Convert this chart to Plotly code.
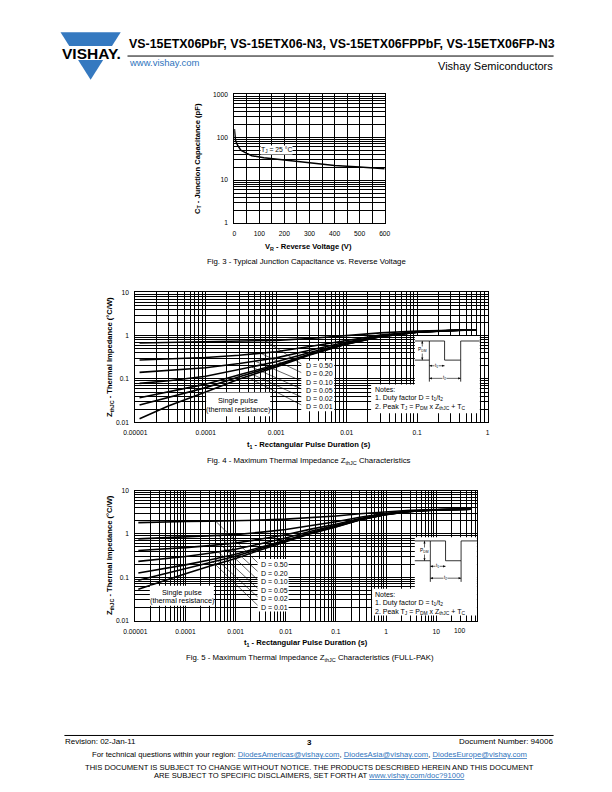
import math
import plotly.graph_objects as go

W, H = 612, 792
FONT = "Liberation Sans, Arial, Helvetica, sans-serif"
BLUE = "#2f74bd"
LOGO_BLUE = "#3579c0"

# ---------------- data ----------------
# Fig. 3 - junction capacitance vs reverse voltage
vr_volts = [0.5, 2, 5, 13, 26, 50, 70, 118, 200, 300, 400, 500, 600]
ct_pf = [155, 119, 84, 65, 50, 42, 37, 33, 29, 24.8, 21.9, 20.1, 18.4]
fig3_x_ticks = [0, 100, 200, 300, 400, 500, 600]
fig3_x_labels = ["0", "100", "200", "300", "400", "500", "600"]
fig3_y_ticks = [1, 10, 100, 1000]
fig3_y_labels = ["1", "10", "100", "1000"]

# Fig. 4 - thermal impedance
duty_labels = ["D = 0.50", "D = 0.20", "D = 0.10", "D = 0.05", "D = 0.02", "D = 0.01"]
t4 = [1.15e-5, 3e-5, 1e-4, 3e-4, 1e-3, 3e-3, 1e-2, 3e-2, 0.1, 0.3, 0.7]
z4_d50 = [0.68, 0.697, 0.71, 0.735, 0.78, 0.865, 1.005, 1.16, 1.285, 1.345, 1.37]
z4_d20 = [0.275, 0.293, 0.314, 0.354, 0.426, 0.562, 0.786, 1.034, 1.234, 1.33, 1.37]
z4_d10 = [0.142, 0.159, 0.182, 0.227, 0.308, 0.461, 0.713, 0.992, 1.217, 1.325, 1.37]
z4_d05 = [0.079, 0.091, 0.116, 0.164, 0.249, 0.411, 0.677, 0.971, 1.209, 1.323, 1.37]
z4_d02 = [0.037, 0.051, 0.076, 0.125, 0.214, 0.38, 0.655, 0.958, 1.203, 1.321, 1.37]
z4_d01 = [0.025, 0.0375, 0.0632, 0.113, 0.202, 0.37, 0.647, 0.954, 1.202, 1.32, 1.37]
z4_single = [0.012, 0.024, 0.05, 0.1, 0.19, 0.36, 0.64, 0.95, 1.2, 1.32, 1.37]
fig4_x_ticks = [1e-5, 1e-4, 1e-3, 1e-2, 1e-1, 1]
fig4_x_labels = ["0.00001", "0.0001", "0.001", "0.01", "0.1", "1"]
z_ticks = [0.01, 0.1, 1, 10]
z_labels = ["0.01", "0.1", "1", "10"]
leader_t4 = [7e-4, 6e-4, 5e-4, 4.5e-4, 4e-4, 3.5e-4]

# Fig. 5 - thermal impedance (FULL-PAK)
t5 = [1.15e-5, 3e-5, 1e-4, 3e-4, 1e-3, 3e-3, 1e-2, 3e-2, 0.1, 0.3, 1, 3, 10, 50]
z5_d50 = [1.83, 1.9, 1.935, 1.965, 2.01, 2.085, 2.2, 2.375, 2.6, 2.93, 3.28, 3.53, 3.68, 3.75]
z5_d20 = [0.77, 0.81, 0.846, 0.894, 0.966, 1.086, 1.27, 1.55, 1.91, 2.43, 2.99, 3.39, 3.63, 3.75]
z5_d10 = [0.415, 0.4425, 0.483, 0.537, 0.618, 0.753, 0.96, 1.275, 1.68, 2.265, 2.895, 3.345, 3.615, 3.75]
z5_d05 = [0.232, 0.259, 0.30, 0.359, 0.444, 0.587, 0.805, 1.14, 1.565, 2.18, 2.85, 3.32, 3.61, 3.75]
z5_d02 = [0.125, 0.149, 0.193, 0.251, 0.34, 0.487, 0.712, 1.055, 1.496, 2.133, 2.82, 3.31, 3.60, 3.75]
z5_d01 = [0.085, 0.112, 0.156, 0.216, 0.305, 0.453, 0.681, 1.03, 1.473, 2.117, 2.81, 3.30, 3.60, 3.75]
z5_single = [0.053, 0.075, 0.12, 0.18, 0.27, 0.42, 0.65, 1.0, 1.45, 2.1, 2.8, 3.3, 3.6, 3.75]
fig5_x_ticks = [1e-5, 1e-4, 1e-3, 1e-2, 1e-1, 1, 10]
fig5_x_labels = ["0.00001", "0.0001", "0.001", "0.01", "0.1", "1", "10"]
leader_t5 = [4e-4, 4.5e-4, 5e-4, 4.5e-4, 4e-4, 3.5e-4]

# ---------------- geometry (page pixels) ----------------
D3X, D3Y = (229, 384), (91, 221)
D4X, D4Y = (127, 490), (291, 422)
D5X, D5Y = (127, 479), (491, 622)
R3X, R3Y = [0, 600], [0, 3]
R4X, R4Y = [-5, 0], [-2, 1]
R5X, R5Y = [-5, 1.81], [-2, 1]


def px(x):
    return x / W


def py(y):
    return 1 - y / H


def page_to_logx(x, dom, rng):
    f = (x - dom[0]) / (dom[1] - dom[0])
    return 10 ** (rng[0] + f * (rng[1] - rng[0]))


def page_to_logy(y, dom, rng):
    f = (dom[1] - y) / (dom[1] - dom[0])
    return 10 ** (rng[0] + f * (rng[1] - rng[0]))


def loglog_interp(t, ts, zs):
    lt = math.log10(t)
    for i in range(len(ts) - 1):
        a, b = math.log10(ts[i]), math.log10(ts[i + 1])
        if a <= lt <= b:
            f = (lt - a) / (b - a)
            la, lb = math.log10(zs[i]), math.log10(zs[i + 1])
            return 10 ** (la + f * (lb - la))
    return zs[-1]


def log_minor(e0, e1):
    return [m * 10.0 ** e for e in range(e0, e1) for m in range(2, 10)]


fig = go.Figure()
shapes = []
annotations = []


def text(x, y, s, size=7.0, xanchor="center", color="black", bg=None, yanchor="middle", textangle=0):
    d = dict(x=px(x), y=py(y), xref="paper", yref="paper", text=s, showarrow=False,
             xanchor=xanchor, yanchor=yanchor, textangle=textangle,
             font=dict(family=FONT, size=size, color=color), borderpad=0)
    if bg:
        d["bgcolor"] = bg
    annotations.append(d)


def line(x0, y0, x1, y1, w=0.8, color="black"):
    shapes.append(dict(type="line", xref="paper", yref="paper", x0=px(x0), y0=py(y0),
                       x1=px(x1), y1=py(y1), line=dict(color=color, width=w), layer="above"))


def rect(x0, y0, x1, y1, fill="white"):
    shapes.append(dict(type="rect", xref="paper", yref="paper", x0=px(x0), y0=py(y0),
                       x1=px(x1), y1=py(y1), fillcolor=fill, line=dict(width=0), layer="above"))


def path(points, w=0.8, fill=None):
    d = "M " + " L ".join(f"{px(a):.5f},{py(b):.5f}" for a, b in points)
    s = dict(type="path", xref="paper", yref="paper", path=d + (" Z" if fill else ""),
             line=dict(color="black" if not fill else fill, width=w), layer="above")
    if fill:
        s["fillcolor"] = fill
    shapes.append(s)


def dim_arrow(x0, y0, x1, y1, head=2.6, half=1.1):
    """double-headed dimension arrow drawn with a line and two small filled heads"""
    line(x0, y0, x1, y1, w=0.6)
    L = math.hypot(x1 - x0, y1 - y0)
    ux, uy = (x1 - x0) / L, (y1 - y0) / L
    nx, ny = -uy, ux
    for (tx, ty, sx, sy) in ((x1, y1, ux, uy), (x0, y0, -ux, -uy)):
        bx, by = tx - sx * head, ty - sy * head
        path([(tx, ty), (bx + nx * half, by + ny * half), (bx - nx * half, by - ny * half)],
             w=0, fill="black")


# ---------------- traces ----------------
fig.add_trace(go.Scatter(x=vr_volts, y=ct_pf, mode="lines", line=dict(color="black", width=1.5),
                         xaxis="x", yaxis="y", hoverinfo="skip"))

curves4 = [z4_d50, z4_d20, z4_d10, z4_d05, z4_d02, z4_d01]
for z in curves4 + [z4_single]:
    fig.add_trace(go.Scatter(x=t4, y=z, mode="lines", line=dict(color="black", width=1.6),
                             xaxis="x2", yaxis="y2", hoverinfo="skip"))

curves5 = [z5_d50, z5_d20, z5_d10, z5_d05, z5_d02, z5_d01]
for z in curves5 + [z5_single]:
    fig.add_trace(go.Scatter(x=t5, y=z, mode="lines", line=dict(color="black", width=1.6),
                             xaxis="x3", yaxis="y3", hoverinfo="skip"))

# duty-cycle labels with leader lines
lab4_x = 302
lab4_y = [365 + 8.2 * i for i in range(6)]
lab5_x = 256
lab5_y = [565.5 + 8.6 * i for i in range(6)]
for i, z in enumerate(curves4):
    ts = leader_t4[i]
    fig.add_trace(go.Scatter(
        x=[ts, page_to_logx(lab4_x - 1, D4X, R4X)],
        y=[loglog_interp(ts, t4, z), page_to_logy(lab4_y[i], D4Y, R4Y)],
        mode="lines", line=dict(color="black", width=0.6), xaxis="x2", yaxis="y2", hoverinfo="skip"))
for i, z in enumerate(curves5):
    ts = leader_t5[i]
    fig.add_trace(go.Scatter(
        x=[ts, page_to_logx(lab5_x - 1, D5X, R5X)],
        y=[loglog_interp(ts, t5, z), page_to_logy(lab5_y[i], D5Y, R5Y)],
        mode="lines", line=dict(color="black", width=0.6), xaxis="x3", yaxis="y3", hoverinfo="skip"))

# ---------------- axes ----------------
common = dict(showgrid=True, gridcolor="black", gridwidth=1, showline=True, mirror=True,
              linecolor="black", linewidth=1, ticks="outside", ticklen=4,
              tickcolor="rgba(0,0,0,0)", zeroline=False,
              tickfont=dict(family=FONT, size=6.7, color="black"))
mgrid = dict(showgrid=True, gridcolor="black", gridwidth=1, ticks="")


def dom_x(d):
    return [d[0] / W, d[1] / W]


def dom_y(d):
    return [1 - d[1] / H, 1 - d[0] / H]


fig.update_layout(
    xaxis=dict(common, domain=dom_x(D3X), range=R3X, anchor="y", tickmode="array",
               tickvals=fig3_x_ticks, ticktext=fig3_x_labels,
               minor=dict(mgrid, dtick=50, tick0=0)),
    yaxis=dict(common, domain=dom_y(D3Y), type="log", range=R3Y, anchor="x", tickmode="array",
               tickvals=fig3_y_ticks, ticktext=fig3_y_labels,
               minor=dict(mgrid, tickvals=log_minor(0, 3))),
    xaxis2=dict(common, domain=dom_x(D4X), type="log", range=R4X, anchor="y2", tickmode="array",
                tickvals=fig4_x_ticks, ticktext=fig4_x_labels,
                minor=dict(mgrid, tickvals=log_minor(-5, 0))),
    yaxis2=dict(common, domain=dom_y(D4Y), type="log", range=R4Y, anchor="x2", tickmode="array",
                tickvals=z_ticks, ticktext=z_labels,
                minor=dict(mgrid, tickvals=log_minor(-2, 1))),
    xaxis3=dict(common, domain=dom_x(D5X), type="log", range=R5X, anchor="y3", tickmode="array",
                tickvals=fig5_x_ticks, ticktext=fig5_x_labels,
                minor=dict(mgrid, tickvals=log_minor(-5, 2))),
    yaxis3=dict(common, domain=dom_y(D5Y), type="log", range=R5Y, anchor="x3", tickmode="array",
                tickvals=z_ticks, ticktext=z_labels,
                minor=dict(mgrid, tickvals=log_minor(-2, 1))),
)

# ---------------- in-plot boxes & labels ----------------
# Fig 3
text(273, 147.5, "T<sub>J</sub> = 25 °C", size=6.8, bg="white")

# Fig 4
rect(200, 392, 266, 416)
text(233, 400, "Single pulse", size=7.3)
text(233, 409, "(thermal resistance)", size=7.3)
rect(298, 360, 332, 411)
for i, lab in enumerate(duty_labels):
    text(lab4_x, lab4_y[i], lab, size=7, xanchor="left")
rect(415, 335, 482, 386)
rect(370, 384, 482, 413)
text(372.5, 388.5, "Notes:", size=7, xanchor="left")
text(372.5, 397.5, "1. Duty factor D = t<sub>1</sub>/t<sub>2</sub>", size=7, xanchor="left")
text(372.5, 406.5, "2. Peak T<sub>J</sub> = P<sub>DM</sub> x Z<sub>thJC</sub> + T<sub>C</sub>", size=7, xanchor="left")
# pulse diagram fig 4
path([(415, 359.3), (430, 359.3), (430, 340), (445.7, 340), (445.7, 359.3), (462.3, 359.3),
      (462.3, 340), (482, 340)])
line(415, 340, 430, 340)
line(430, 359.3, 430, 381)
line(462.3, 359.3, 462.3, 381)
dim_arrow(422.7, 359.3, 422.7, 340)
text(422.7, 349.5, "P<sub>DM</sub>", size=4.8, bg="white")
dim_arrow(430, 365, 445.7, 365)
text(437.8, 365, "t<sub>1</sub>", size=4.8, bg="white")
dim_arrow(430, 377.7, 462.3, 377.7)
text(446, 377.7, "t<sub>2</sub>", size=4.8, bg="white")

# Fig 5
rect(142, 587, 208, 607)
text(175, 593.3, "Single pulse", size=7.3)
text(175, 602, "(thermal resistance)", size=7.3)
rect(253, 560, 285, 613)
for i, lab in enumerate(duty_labels):
    text(lab5_x, lab5_y[i], lab, size=7, xanchor="left")
rect(415, 538, 479, 592)
rect(371, 590, 479, 617)
text(373, 596, "Notes:", size=7, xanchor="left")
text(373, 604.5, "1. Duty factor D = t<sub>1</sub>/t<sub>2</sub>", size=7, xanchor="left")
text(373, 613, "2. Peak T<sub>J</sub> = P<sub>DM</sub> x Z<sub>thJC</sub> + T<sub>C</sub>", size=7, xanchor="left")
path([(415, 561.7), (431, 561.7), (431, 541.7), (446.7, 541.7), (446.7, 561.7), (462.7, 561.7),
      (462.7, 541.7), (479, 541.7)])
line(415, 541.7, 431, 541.7)
line(431, 561.7, 431, 583)
line(462.7, 561.7, 462.7, 583)
dim_arrow(425, 561.7, 425, 541.7)
text(425, 551.7, "P<sub>DM</sub>", size=4.8, bg="white")
dim_arrow(431, 567.3, 446.7, 567.3)
text(438.8, 567.3, "t<sub>1</sub>", size=4.8, bg="white")
dim_arrow(431, 579.3, 462.7, 579.3)
text(447, 579.3, "t<sub>2</sub>", size=4.8, bg="white")
text(461, 632, "100", size=6.7)

# ---------------- axis titles & captions ----------------
text(191, 156, "<b>C<sub>T</sub> - Junction Capacitance (pF)</b>", size=7.6, textangle=-90)
text(305, 245, "<b>V<sub>R</sub> - Reverse Voltage (V)</b>", size=7.6)
text(303, 260, "Fig. 3 - Typical Junction Capacitance vs. Reverse Voltage", size=7.8)

text(101, 356, "<b>Z<sub>thJC</sub> - Thermal Impedance (°C/W)</b>", size=7.6, textangle=-90)
text(306, 445, "<b>t<sub>1</sub> - Rectangular Pulse Duration (s)</b>", size=7.6)
text(306, 461, "Fig. 4 - Maximum Thermal Impedance Z<sub>thJC</sub> Characteristics", size=7.8)

text(101, 556, "<b>Z<sub>thJC</sub> - Thermal Impedance (°C/W)</b>", size=7.6, textangle=-90)
text(303, 645, "<b>t<sub>1</sub> - Rectangular Pulse Duration (s)</b>", size=7.6)
text(307, 660, "Fig. 5 - Maximum Thermal Impedance Z<sub>thJC</sub> Characteristics (FULL-PAK)", size=7.8)

# ---------------- header ----------------
path([(50, 28.4), (112, 28.4), (81, 76.5)], w=0, fill=LOGO_BLUE)
rect(46, 42.5, 117, 56.5)
text(81.5, 49.8, "<b>VISHAY.</b>", size=15.5)
text(119, 40.5, "<b>VS-15ETX06PbF, VS-15ETX06-N3, VS-15ETX06FPPbF, VS-15ETX06FP-N3</b>", size=12.4,
     xanchor="left")
line(119, 52.5, 558, 52.5, w=1)
text(119, 59.5, "www.vishay.com", size=9.5, xanchor="left", color=BLUE)
text(558, 63, "Vishay Semiconductors", size=11, xanchor="right")

# ---------------- footer ----------------
line(54, 738, 558, 738, w=1)
text(54, 744.5, "Revision: 02-Jan-11", size=8, xanchor="left")
text(306, 745, "<b>3</b>", size=8)
text(558, 744.5, "Document Number: 94006", size=8, xanchor="right")
lk = '<span style="color:%s;text-decoration:underline">%s</span>'
text(306, 757, "For technical questions within your region: " + lk % (BLUE, "DiodesAmericas@vishay.com")
     + ", " + lk % (BLUE, "DiodesAsia@vishay.com") + ", " + lk % (BLUE, "DiodesEurope@vishay.com"),
     size=7.7)
text(306, 770.5, "THIS DOCUMENT IS SUBJECT TO CHANGE WITHOUT NOTICE. THE PRODUCTS DESCRIBED HEREIN AND THIS DOCUMENT",
     size=7.6)
text(306, 778, "ARE SUBJECT TO SPECIFIC DISCLAIMERS, SET FORTH AT " + lk % (BLUE, "www.vishay.com/doc?91000"),
     size=7.6)

fig.update_layout(width=W, height=H, margin=dict(l=0, r=0, t=0, b=0), showlegend=False,
                  paper_bgcolor="white", plot_bgcolor="white", shapes=shapes,
                  annotations=annotations, font=dict(family=FONT))

fig.write_html("out.html")
